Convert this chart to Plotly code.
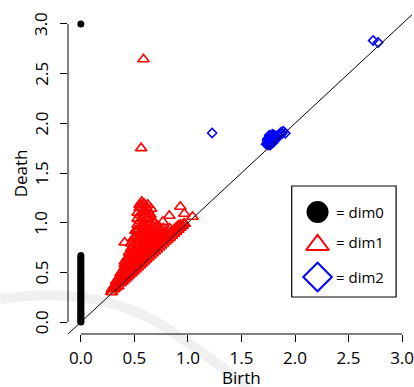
import plotly.graph_objects as go

# ---------------- data ----------------
dim0_birth = [0.0] * 37
dim0_death = [0.00, 0.01, 0.03, 0.04, 0.06, 0.08, 0.09, 0.11, 0.13, 0.15,
              0.17, 0.19, 0.21, 0.23, 0.25, 0.27, 0.29, 0.31, 0.33, 0.35,
              0.37, 0.39, 0.41, 0.43, 0.45, 0.47, 0.49, 0.51, 0.53, 0.55,
              0.57, 0.59, 0.61, 0.63, 0.65, 0.67, 3.00]

dim1_birth = [
    0.29, 0.29,
    0.31, 0.31, 0.31,
    0.33, 0.33, 0.33,
    0.35, 0.35, 0.35,
    0.37, 0.37, 0.37, 0.37,
    0.39, 0.39, 0.39, 0.39,
    0.41, 0.41, 0.41, 0.41, 0.41, 0.41,
    0.43, 0.43, 0.43, 0.43, 0.43, 0.43,
    0.45, 0.45, 0.45, 0.45, 0.45, 0.45, 0.45,
    0.47, 0.47, 0.47, 0.47, 0.47, 0.47, 0.47, 0.47,
    0.49, 0.49, 0.49, 0.49, 0.49, 0.49, 0.49, 0.49,
    0.51, 0.51, 0.51, 0.51, 0.51, 0.51, 0.51, 0.51, 0.51,
    0.53, 0.53, 0.53, 0.53, 0.53, 0.53, 0.53, 0.53, 0.53, 0.53, 0.53,
    0.55, 0.55, 0.55, 0.55, 0.55, 0.55, 0.55, 0.55, 0.55, 0.55, 0.55,
    0.57, 0.57, 0.57, 0.57, 0.57, 0.57, 0.57, 0.57, 0.57, 0.57, 0.57,
    0.59, 0.59, 0.59, 0.59, 0.59, 0.59, 0.59, 0.59, 0.59, 0.59, 0.59,
    0.61, 0.61, 0.61, 0.61, 0.61, 0.61, 0.61, 0.61, 0.61, 0.61,
    0.63, 0.63, 0.63, 0.63, 0.63, 0.63, 0.63, 0.63, 0.63,
    0.65, 0.65, 0.65, 0.65, 0.65, 0.65, 0.65, 0.65,
    0.67, 0.67, 0.67, 0.67, 0.67, 0.67, 0.67,
    0.69, 0.69, 0.69, 0.69, 0.69, 0.69,
    0.71, 0.71, 0.71, 0.71, 0.71,
    0.73, 0.73, 0.73, 0.73, 0.73,
    0.75, 0.75, 0.75, 0.75,
    0.77, 0.77, 0.77, 0.77,
    0.79, 0.79, 0.79,
    0.81, 0.81, 0.81,
    0.83, 0.83, 0.83,
    0.85, 0.85,
    0.87, 0.87,
    0.89, 0.89,
    0.91, 0.91,
    0.93, 0.93,
    0.95, 0.97,
    # scattered points
    0.585, 0.563, 0.569, 0.625, 0.656, 0.548, 0.594, 0.929, 0.966, 1.043,
    0.826, 0.765, 0.960, 0.409, 0.464, 0.532, 0.316, 0.285,
]
dim1_death = [
    0.30, 0.33,
    0.33, 0.36, 0.34,
    0.35, 0.38, 0.41,
    0.36, 0.40, 0.44,
    0.39, 0.42, 0.46, 0.49,
    0.41, 0.44, 0.48, 0.52,
    0.43, 0.46, 0.50, 0.55, 0.58, 0.61,
    0.45, 0.48, 0.52, 0.56, 0.60, 0.64,
    0.47, 0.50, 0.54, 0.58, 0.62, 0.66, 0.70,
    0.49, 0.52, 0.56, 0.60, 0.64, 0.68, 0.74, 0.79,
    0.51, 0.54, 0.58, 0.62, 0.66, 0.70, 0.76, 0.84,
    0.53, 0.56, 0.60, 0.65, 0.70, 0.75, 0.80, 0.86, 0.92,
    0.55, 0.59, 0.64, 0.69, 0.74, 0.80, 0.86, 0.92, 0.98, 1.04, 1.10,
    0.57, 0.61, 0.66, 0.72, 0.78, 0.84, 0.90, 0.96, 1.02, 1.08, 1.15,
    0.59, 0.63, 0.68, 0.74, 0.80, 0.86, 0.92, 0.98, 1.04, 1.10, 1.18,
    0.61, 0.65, 0.70, 0.76, 0.82, 0.88, 0.94, 1.00, 1.06, 1.12, 1.19,
    0.63, 0.67, 0.72, 0.78, 0.84, 0.90, 0.96, 1.03, 1.10, 1.16,
    0.65, 0.69, 0.74, 0.80, 0.86, 0.92, 0.98, 1.05, 1.12,
    0.67, 0.71, 0.76, 0.82, 0.88, 0.94, 1.00, 1.08,
    0.69, 0.73, 0.78, 0.84, 0.90, 0.96, 1.03,
    0.71, 0.75, 0.80, 0.86, 0.92, 0.99,
    0.73, 0.77, 0.82, 0.88, 0.95,
    0.75, 0.79, 0.84, 0.90, 0.96,
    0.77, 0.81, 0.86, 0.92,
    0.79, 0.83, 0.88, 0.94,
    0.81, 0.85, 0.90,
    0.83, 0.87, 0.92,
    0.85, 0.89, 0.94,
    0.87, 0.91,
    0.89, 0.93,
    0.91, 0.95,
    0.93, 0.97,
    0.95, 0.98,
    0.97, 0.99,
    # scattered points
    2.645, 1.75, 1.21, 1.18, 1.14, 1.18, 1.08, 1.16, 1.09, 1.06,
    1.07, 1.01, 0.99, 0.80, 0.69, 0.93, 0.34, 0.305,
]

dim2_birth = [1.74, 1.74, 1.75, 1.76, 1.76, 1.77, 1.78, 1.78, 1.79, 1.80,
              1.81, 1.82, 1.83, 1.84, 1.86, 1.88, 1.77, 1.80, 1.75, 1.91,
              1.73, 1.74, 1.75, 1.76, 1.77, 1.79, 1.79, 1.81, 1.82, 1.85,
              1.78, 1.76, 1.87, 1.89,
              1.226, 2.73, 2.776]
dim2_death = [1.80, 1.84, 1.78, 1.82, 1.86, 1.80, 1.84, 1.88, 1.82, 1.86,
              1.83, 1.87, 1.85, 1.88, 1.89, 1.90, 1.78, 1.81, 1.79, 1.90,
              1.79, 1.82, 1.85, 1.88, 1.84, 1.86, 1.89, 1.88, 1.84, 1.87,
              1.80, 1.79, 1.91, 1.92,
              1.903, 2.833, 2.813]

diag = [-0.5, 3.5]
tick_vals = [0, 0.5, 1.0, 1.5, 2.0, 2.5, 3.0]
tick_text = ["0.0", "0.5", "1.0", "1.5", "2.0", "2.5", "3.0"]
legend_labels = ["= dim0", "= dim1", "= dim2"]

# ---------------- figure ----------------
FONT = "Open Sans"
W, H = 414, 387
L, R, T, B = 68, 0, 12, 53
pw, ph = W - L - R, H - T - B


def px2paper(x, y):
    return (x - L) / pw, (H - B - y) / ph


fig = go.Figure()

fig.add_trace(go.Scatter(
    x=dim0_birth, y=dim0_death, mode="markers",
    marker=dict(symbol="circle", size=7, color="black", line=dict(width=0)),
    showlegend=False, hoverinfo="skip"))

fig.add_trace(go.Scatter(
    x=dim1_birth, y=dim1_death, mode="markers",
    marker=dict(symbol="triangle-up-open", size=10, color="#ff0000",
                line=dict(width=1.6, color="#ff0000")),
    showlegend=False, hoverinfo="skip"))

fig.add_trace(go.Scatter(
    x=dim2_birth, y=dim2_death, mode="markers",
    marker=dict(symbol="diamond-open", size=7, color="#0000ff",
                line=dict(width=1.6, color="#0000ff")),
    showlegend=False, hoverinfo="skip"))

fig.add_trace(go.Scatter(
    x=diag, y=diag, mode="lines", line=dict(color="black", width=1),
    showlegend=False, hoverinfo="skip"))

# legend glyphs on an overlay axis in paper units
lx, _ = px2paper(319, 0)
ly = [px2paper(0, 212)[1], px2paper(0, 245)[1], px2paper(0, 277)[1]]
fig.add_trace(go.Scatter(
    x=[lx] * 3, y=ly, mode="markers", xaxis="x2", yaxis="y2",
    marker=dict(symbol=["circle", "triangle-up-open", "diamond-open"],
                size=[20, 20, 22], color=["black", "#ff0000", "#0000ff"],
                opacity=1,
                line=dict(width=2, color=["black", "#ff0000", "#0000ff"])),
    showlegend=False, hoverinfo="skip", cliponaxis=False))

shapes = []
# watermark swoosh (faint)
p = [px2paper(*pt) for pt in [(0, 299), (60, 290), (120, 296), (170, 330),
                              (230, 372), (258, 395)]]
shapes.append(dict(
    type="path", xref="paper", yref="paper", layer="below",
    path=f"M {p[0][0]},{p[0][1]} C {p[1][0]},{p[1][1]} {p[2][0]},{p[2][1]} {p[3][0]},{p[3][1]} "
         f"S {p[4][0]},{p[4][1]} {p[5][0]},{p[5][1]}",
    line=dict(color="rgba(0,0,0,0.06)", width=10)))
# R-style axis lines
shapes.append(dict(type="line", xref="x", yref="paper", x0=0, x1=3, y0=0, y1=0,
                   line=dict(color="black", width=1)))
shapes.append(dict(type="line", xref="paper", yref="y", x0=0, x1=0, y0=0, y1=3,
                   line=dict(color="black", width=1)))
# legend box
bx0, by0 = px2paper(293, 297)
bx1, by1 = px2paper(398, 186)
shapes.append(dict(type="rect", xref="paper", yref="paper", x0=bx0, x1=bx1,
                   y0=by0, y1=by1, line=dict(color="black", width=1.2),
                   fillcolor="white", layer="below"))

annotations = []
tx, _ = px2paper(336, 0)
for lab, yy in zip(legend_labels, [ly[0], px2paper(0, 242)[1], ly[2]]):
    annotations.append(dict(xref="paper", yref="paper", x=tx, y=yy, text=lab,
                            showarrow=False, xanchor="left", yanchor="middle",
                            font=dict(family=FONT, size=15, color="black")))
# y tick labels, R style (parallel to the axis)
ytx, _ = px2paper(41, 0)
for v, t in zip(tick_vals, tick_text):
    annotations.append(dict(xref="paper", yref="y", x=ytx, y=v, text=t,
                            showarrow=False, textangle=-90,
                            xanchor="center", yanchor="middle",
                            font=dict(family=FONT, size=17, color="black")))
annotations.append(dict(xref="x", yref="paper", x=1.5, y=px2paper(0, 377)[1],
                        text="Birth", showarrow=False, xanchor="center",
                        yanchor="middle",
                        font=dict(family=FONT, size=17, color="black")))
annotations.append(dict(xref="paper", yref="y", x=px2paper(20, 0)[0], y=1.5,
                        text="Death", showarrow=False, textangle=-90,
                        xanchor="center", yanchor="middle",
                        font=dict(family=FONT, size=17, color="black")))

axis_common = dict(showgrid=False, zeroline=False, showline=False,
                   ticks="outside", ticklen=7, tickwidth=1, tickcolor="black",
                   tickvals=tick_vals, ticktext=tick_text,
                   ticklabeloverflow="allow",
                   tickfont=dict(family=FONT, size=17, color="black"))

fig.update_layout(
    width=W, height=H, margin=dict(l=L, r=R, t=T, b=B, pad=0),
    paper_bgcolor="white", plot_bgcolor="rgba(0,0,0,0)",
    xaxis=dict(range=[-0.12, -0.12 + pw / 107.7], ticklabelstandoff=2,
               **axis_common),
    yaxis=dict(range=[-0.12, 3.12], showticklabels=False, **axis_common),
    xaxis2=dict(range=[0, 1], overlaying="x", anchor="y2", visible=False),
    yaxis2=dict(range=[0, 1], overlaying="y", anchor="x2", visible=False),
    shapes=shapes, annotations=annotations, showlegend=False,
)

fig.write_html(
    "out.html",
    config={"displayModeBar": False},
    post_script="document.body.style.margin='0';document.body.style.overflow='hidden';",
)
